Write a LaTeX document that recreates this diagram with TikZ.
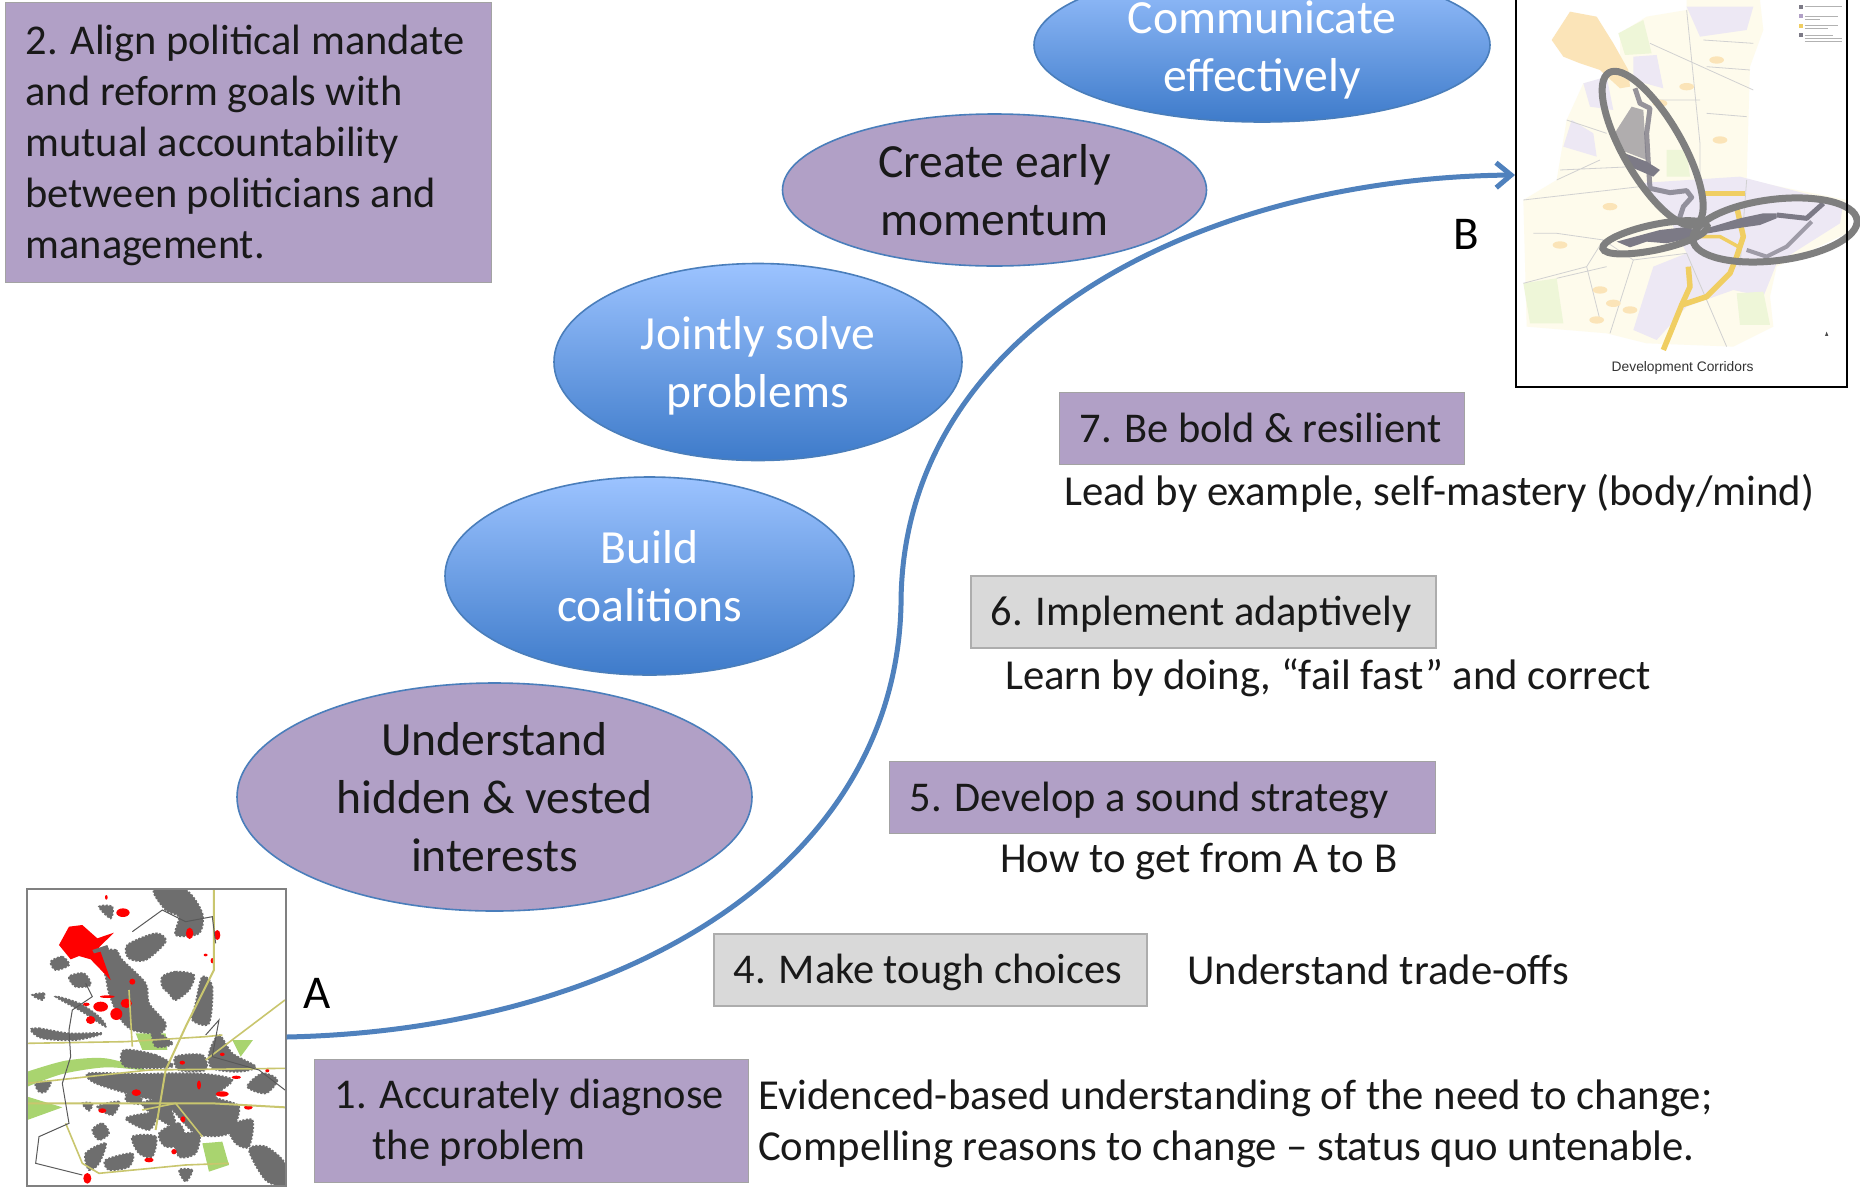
\documentclass[tikz,border=0pt]{standalone}
\usepackage{fontspec}
\setmainfont{Carlito}
\newfontfamily\mapfont{Liberation Sans}
\usetikzlibrary{shapes.geometric,arrows.meta}
\definecolor{pur}{HTML}{B1A0C6}
\definecolor{edgeblue}{HTML}{4A7EBB}
\definecolor{curveblue}{HTML}{4F81BD}
\definecolor{skytop}{HTML}{9CC3FF}
\definecolor{skybot}{HTML}{3E7BCA}
\definecolor{boxgray}{HTML}{D9D9D9}
\definecolor{mapgray}{HTML}{6E6E6E}
\definecolor{mapgreen}{HTML}{A9D46F}
\definecolor{mapolive}{HTML}{C9C66E}
\definecolor{ringgray}{HTML}{7F7F7F}
\definecolor{roadyellow}{HTML}{F0CE62}
\definecolor{paleyellow}{HTML}{FEFBEC}
\definecolor{palepurple}{HTML}{EDE8F4}
\definecolor{paleorange}{HTML}{FBE4B8}
\definecolor{palegreen}{HTML}{EEF6D8}
\definecolor{corridor}{HTML}{7C7A86}
\tikzset{
  bigtxt/.style={font=\fontsize{47.6}{58}\selectfont,align=center},
  oval/.style={ellipse,inner sep=0pt,draw=edgeblue,line width=1.6pt,bigtxt},
  purpleoval/.style={oval,fill=pur,text=black!90},
  blueoval/.style={oval,top color=skytop,bottom color=skybot,text=white},
  boxtxt/.style={font=\fontsize{42.7}{51}\selectfont},
  steptxt/.style={font=\fontsize{42.4}{51}\selectfont},
  stepbox/.style={rectangle,anchor=north west,inner xsep=20pt,inner ysep=0pt,align=flush left,steptxt,text=black!90},
  purplebox/.style={stepbox,fill=pur,draw=black!36,line width=1.2pt},
  graybox/.style={stepbox,fill=boxgray,draw=black!32,line width=1.6pt},
  oneline/.style={text height=38pt,text depth=10pt},
  note/.style={anchor=west,inner sep=0pt,align=left,boxtxt,text=black!90},
  blob/.style={fill=mapgray,draw=mapgray,line width=1.8pt,dash pattern=on 2pt off 1.6pt},
  ring/.style={draw=ringgray,line width=7pt},
  flowcurve/.style={draw=curveblue,line width=5pt,-{Straight Barb[length=15pt,width=25pt,line width=5pt]}},
}
\begin{document}
\begin{tikzpicture}[x=1pt,y=-1pt]
\useasboundingbox (0,0) rectangle (1860,1187);
\fill[white] (0,0) rectangle (1860,1187);
\clip (0,0) rectangle (1860,1187);

% ----- map A (hand drawn map content)
\begin{scope}[shift={(-1,870)},x=0.3333pt,y=-0.3333pt]
\clip (80,55) rectangle (858,945);
\fill[mapgreen] plot[smooth,tension=.5] coordinates {(85,605)(200,572)(320,565)(440,600)(320,592)(190,612)(85,650)} -- cycle;
\fill[mapgreen] (85,680) -- (190,712) -- (85,750) -- cycle;
\fill[mapgreen] (410,490) -- (500,490) -- (505,540) -- (430,540) -- cycle;
\fill[mapgreen] (700,510) -- (762,510) -- (725,560) -- cycle;
\fill[mapgreen] (610,820) -- (670,815) -- (690,885) -- (630,905) -- cycle;
\foreach \pts in {
 {(465,60)(560,60)(610,130)(600,190)(530,195)(540,140)(500,120)},
 {(300,110)(340,110)(335,145)},
 {(385,225)(470,190)(500,215)(440,270)(390,265)},
 {(300,250)(350,240)(370,270)(440,340)(450,400)(500,460)(480,490)(400,480)(360,440)(330,370)(320,320)},
 {(490,320)(530,305)(585,315)(570,360)(530,390)(510,370)(490,350)},
 {(610,320)(640,350)(630,460)(580,450)(590,400)},
 {(155,275)(190,260)(210,285)(170,300)},
 {(210,320)(255,310)(275,345)(230,350)},
 {(100,375)(135,370)(130,390)},
 {(170,380)(240,400)(300,440)(320,470)(250,425)},
 {(95,480)(120,475)(210,490)(310,490)(230,510)(130,505)},
 {(630,550)(660,495)(700,550)(770,590)(720,605)(640,595)},
 {(375,540)(470,555)(520,590)(380,590)},
 {(530,560)(610,555)(620,600)(540,600)},
 {(270,610)(420,612)(520,610)(620,612)(700,630)(650,680)(720,710)(690,790)(590,790)(500,700)(420,680)(290,640)},
 {(430,700)(500,690)(530,770)(470,740)},
 {(790,610)(835,630)(800,670)(745,650)},
 {(400,800)(470,800)(460,860)(420,850)},
 {(260,850)(320,820)(300,880)(270,900)},
 {(320,870)(400,850)(390,890)(330,900)},
 {(690,770)(760,750)(750,830)(710,820)},
 {(750,840)(800,830)(858,880)(858,945)(800,930)},
 {(110,640)(155,635)(140,665)(120,665)},
 {(480,790)(540,760)(560,820)(500,830)},
 {(295,710)(360,695)(340,735)},
 {(380,745)(470,730)(450,780)},
 {(530,800)(600,790)(590,850)(540,860)},
 {(600,680)(640,700)(620,740)},
 {(280,780)(310,760)(330,790)(300,810)},
 {(250,700)(280,700)(270,722)},
 {(400,640)(430,700)(380,690)},
 {(460,480)(520,520)(470,530)},
 {(540,900)(580,900)(560,935)}}
 {\path[blob] plot[smooth cycle,tension=.5] coordinates \pts;}
\fill[red] (180,225) -- (210,170) -- (250,165) -- (295,205) -- (345,188) -- (300,232) -- (335,330) -- (275,268) -- (240,258) -- (215,268) -- cycle;
\fill[mapgray] (280,240) -- (325,225) -- (330,238) -- (285,250) -- cycle;
\foreach \x/\y/\rx/\ry in {372/128/20/13,275/450/14/12,352/432/18/18,382/400/17/14,305/410/22/15,400/335/9/9,572/190/11/17,655/195/9/15,412/668/14/10,670/672/20/8,600/645/6/14,748/712/13/7,310/722/12/7,550/578/8/6,805/602/6/5,450/870/14/7,265/925/12/16,712/622/14/5,322/82/4/7,640/272/5/8,525/845/8/8,552/748/7/9,325/380/22/4,262/403/10/5,620/255/6/4,670/553/7/5}
 {\fill[red] (\x,\y) ellipse [x radius=\rx,y radius=\ry];}
\draw[mapolive,line width=1.6pt] (85,520) -- (380,515) -- (620,500) -- (670,495);
\draw[mapolive,line width=2pt] (645,60) -- (645,300) -- (560,470) -- (500,600) -- (470,780);
\draw[mapolive,line width=1.6pt] (85,640) -- (450,600) -- (858,595);
\draw[mapolive,line width=2pt] (85,700) -- (430,700) -- (640,700) -- (858,712);
\draw[mapolive,line width=1.6pt] (620,570) -- (858,390);
\draw[mapolive,line width=1.6pt] (200,760) -- (250,880) -- (300,910) -- (560,885) -- (690,880);
\draw[mapolive,line width=1.6pt] (390,360) -- (400,530) (430,720) -- (530,700) -- (610,800);
\draw[black!65,line width=1pt] (400,185) -- (490,120) -- (560,155) -- (640,140) -- (650,220);
\draw[black!65,line width=1pt] (260,340) -- (280,380) -- (220,420) -- (210,480) -- (215,560) -- (190,640) -- (210,760) -- (120,800) -- (110,880) -- (250,915);
\draw[black!65,line width=1pt] (620,495) -- (660,450) -- (640,560) -- (780,600) -- (858,660);
\end{scope}
\node[rectangle,draw=black!50,line width=1.6pt,inner sep=0pt,minimum width=259pt,minimum height=297pt,anchor=north west] (mapA) at (26,888) {};

% ----- map B (hand drawn map content)
\begin{scope}[shift={(1500,0)},x=0.3333pt,y=-0.3333pt]
\fill[paleyellow] (360,100) -- (440,50) -- (560,30) -- (560,0) -- (780,0) -- (790,90) -- (750,200) -- (740,540) -- (1040,600) -- (1040,700) -- (830,800) -- (810,890) -- (820,980) -- (700,1040) -- (440,1030) -- (320,1000) -- (80,980) -- (70,600) -- (170,540) -- (200,360) -- (250,250) -- (360,230) -- cycle;
\fill[paleorange] (155,120) -- (210,35) -- (290,50) -- (340,130) -- (385,210) -- (390,260) -- (360,265) -- (300,210) -- (240,190) -- (190,170) -- cycle;
\fill[palepurple] (190,440) -- (215,360) -- (280,400) -- (290,470) -- cycle;
\fill[palepurple] (250,250) -- (320,230) -- (340,330) -- (270,320) -- cycle;
\fill[palepurple] (400,170) -- (470,165) -- (490,265) -- (400,240) -- cycle;
\fill[palepurple] (560,20) -- (760,20) -- (740,90) -- (600,110) -- cycle;
\fill[palepurple] (410,550) -- (720,530) -- (1030,610) -- (1020,670) -- (830,790) -- (790,890) -- (700,870) -- (560,920) -- (470,1020) -- (400,990) -- (460,800) -- (560,760) -- (500,640) -- cycle;
\fill[palegreen] (70,850) -- (170,835) -- (190,970) -- (90,970) -- cycle;
\fill[palegreen] (710,880) -- (790,875) -- (810,975) -- (720,975) -- cycle;
\fill[palegreen] (355,100) -- (430,60) -- (455,160) -- (375,165) -- cycle;
\fill[palegreen] (500,450) -- (560,450) -- (570,530) -- (500,530) -- cycle;
\draw[black!18,line width=.8pt] (70,600) -- (420,560) (180,510) -- (400,500) (170,700) -- (310,720) -- (260,800) -- (70,850) (310,720) -- (400,780) -- (330,1000) (560,30) -- (600,430) -- (600,560) (610,120) -- (760,130) (450,130) -- (760,270) (740,540) -- (720,800) (560,760) -- (680,1040) (170,835) -- (320,800) (200,360) -- (320,400) (170,540) -- (300,480) (100,700) -- (170,700) (450,300) -- (600,300) (620,200) -- (750,210) (620,340) -- (740,350) (400,780) -- (560,760) (260,800) -- (300,960);
\foreach \x/\y in {480/310,560/260,650/180,330/620,300/870,390/930,290/960,180/735,660/420,340/910}
 {\fill[paleorange] (\x,\y) ellipse [x radius=22,y radius=11];}
\draw[roadyellow,line width=5pt] (610,580) -- (735,580);
\draw[roadyellow,line width=5.5pt,line join=round] (710,620) -- (730,710) -- (710,770) -- (690,820) -- (620,890) -- (545,915) -- (490,1050);
\draw[roadyellow,line width=5.5pt,line join=round] (565,800) -- (570,860) -- (545,915);
\draw[roadyellow,line width=3.5pt,line join=round] (600,710) -- (660,710) -- (715,740);
\fill[corridor,opacity=.6] (350,390) -- (395,320) -- (430,330) -- (440,480) -- (375,455) -- (345,400) -- cycle;
\draw[corridor,opacity=.8,line width=5pt,line join=round] (405,265) -- (420,310) -- (450,325) -- (440,400) -- (445,490) -- (450,565) -- (510,578) -- (560,572) -- (575,592) -- (550,620) -- (535,665);
\fill[corridor] (375,460) -- (440,485) -- (480,510) -- (460,530) -- (390,500) -- cycle;
\fill[corridor] (350,725) -- (480,690) -- (570,680) -- (590,710) -- (500,730) -- (440,725) -- (390,742) -- cycle;
\fill[corridor] (620,685) -- (720,655) -- (790,640) -- (830,640) -- (830,655) -- (780,675) -- (710,685) -- (625,700) -- cycle;
\draw[corridor,line width=5pt,line join=round] (830,645) -- (920,655) -- (970,610);
\draw[corridor!70!palepurple,line width=4pt,line join=round] (935,665) -- (860,740) -- (800,770) -- (740,750);
\draw[ring,rotate around={-60:(458,445)}] (458,445) ellipse [x radius=262,y radius=88];
\draw[ring,rotate around={12:(465,712)}] (465,712) ellipse [x radius=160,y radius=38];
\draw[ring,rotate around={7:(825,690)}] (825,690) ellipse [x radius=248,y radius=92];
% legend swatches
\fill[corridor] (896,15) rectangle (908,26);
\fill[pur] (896,42) rectangle (908,53);
\fill[roadyellow] (896,72) rectangle (908,83);
\fill[corridor] (896,100) rectangle (908,111);
\draw[black!30,line width=.8pt] (915,20) -- (1025,20) (915,48) -- (1015,48) (915,58) -- (960,58) (915,76) -- (1015,76) (915,86) -- (985,86) (915,105) -- (1000,105) (915,115) -- (1025,115) (915,125) -- (1025,125);
\fill[black!70] (980,995) -- (985,1008) -- (975,1008) -- cycle;
\node[font=\mapfont\fontsize{13.8}{16}\selectfont,text=black!80,inner sep=0pt] (mapcaption) at (548,1105) {Development Corridors};
\end{scope}
\node[rectangle,draw=black,line width=2.4pt,inner sep=0pt,minimum width=331pt,minimum height=425pt,anchor=south west] (mapB) at (1515,388) {};

% ----- ovals
\node[blueoval,minimum width=456pt,minimum height=154pt] (comm) at (1262,45) {\rule{0pt}{42pt}Communicate\\effectively};
\node[purpleoval,minimum width=424pt,minimum height=152pt] (early) at (994.5,190) {Create early\\momentum};
\node[blueoval,minimum width=408pt,minimum height=197pt] (joint) at (758,362) {\rule{0pt}{41pt}Jointly solve\\problems};
\node[blueoval,minimum width=409pt,minimum height=198pt] (build) at (649.5,576) {Build\\coalitions};
\node[purpleoval,minimum width=515pt,minimum height=228pt] (under) at (494.5,797) {Understand\\hidden \& vested\\interests};

% ----- step boxes
\node[purplebox,minimum width=486pt,minimum height=280pt,text width=446pt] (s2) at (5,2) {\rule{0pt}{36pt}2. Align political mandate\\and reform goals with\\mutual accountability\\between politicians and\\management.};
\node[purplebox,oneline,minimum width=405pt,minimum height=72pt,text width=365pt] (s7) at (1059,392) {7. Be bold \& resilient};
\node[graybox,oneline,minimum width=465pt,minimum height=72pt,text width=425pt] (s6) at (970,575) {6. Implement adaptively};
\node[purplebox,oneline,minimum width=546pt,minimum height=72pt,text width=506pt] (s5) at (889,761) {5. Develop a sound strategy};
\node[graybox,oneline,minimum width=433pt,minimum height=72pt,text width=393pt] (s4) at (713,933) {4. Make tough choices};
\node[purplebox,minimum width=434pt,minimum height=123pt,text width=394pt] (s1) at (314,1059) {\rule{0pt}{33pt}1. Accurately diagnose\\\hspace*{38pt}the problem};

% ----- notes
\node[note] (n7) at (1064,493.4) {Lead by example, self-mastery (body/mind)};
\node[note] (n6) at (1005,677.4) {Learn by doing, “fail fast” and correct};
\node[note] (n5) at (1000,861.4) {How to get from A to B};
\node[note] (n4) at (1187,970) {Understand trade-offs};
\node[note] (n1) at (758,1124) {Evidenced-based understanding of the need to change;\\Compelling reasons to change – status quo untenable.};
\node[font=\fontsize{47}{58}\selectfont,inner sep=0pt,text=black] (labA) at (317,993) {A};
\node[font=\fontsize{47}{58}\selectfont,inner sep=0pt,text=black] (labB) at (1466,234) {B};

% ----- connector
\coordinate (curveStart) at (mapA.east |- 0,1037);
\coordinate (curveMid) at (901,605);
\coordinate (curveEnd) at (mapB.west |- 0,175);
\path[flowcurve] (curveStart) .. controls (620,1030) and (895,870) .. (curveMid)
  .. controls (901,325) and (1205,178) .. (curveEnd);
\end{tikzpicture}
\end{document}
